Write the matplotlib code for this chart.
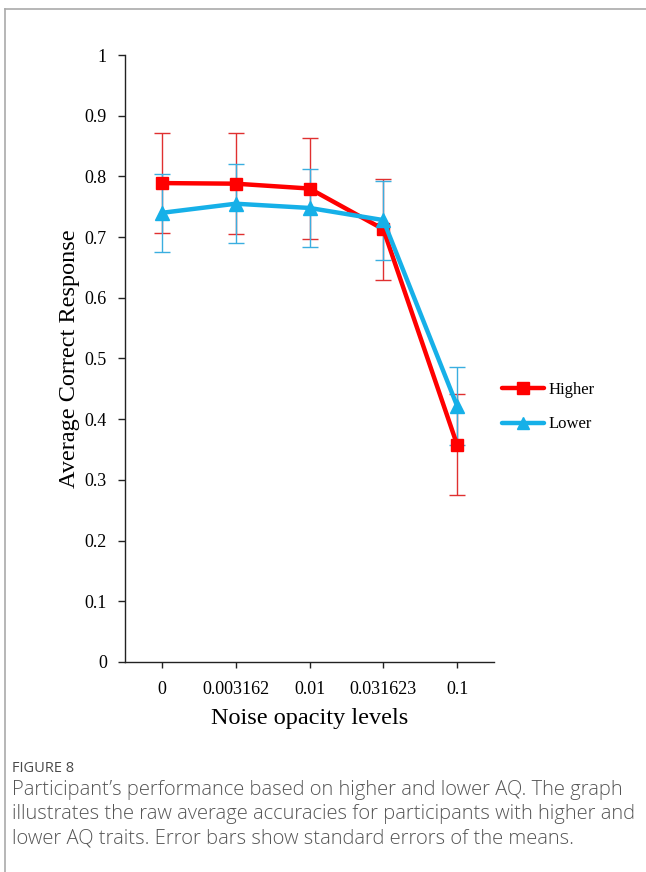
import matplotlib
matplotlib.use("Agg")
import matplotlib.pyplot as plt
from matplotlib.lines import Line2D

categories = ["0", "0.003162", "0.01", "0.031623", "0.1"]
higher = [0.789, 0.788, 0.780, 0.713, 0.358]
higher_err = [0.083, 0.083, 0.083, 0.083, 0.083]
lower = [0.740, 0.755, 0.748, 0.728, 0.422]
lower_err = [0.064, 0.065, 0.065, 0.065, 0.064]
yticks = [0, 0.1, 0.2, 0.3, 0.4, 0.5, 0.6, 0.7, 0.8, 0.9, 1]
ytick_labels = ["0", "0.1", "0.2", "0.3", "0.4", "0.5", "0.6", "0.7", "0.8", "0.9", "1"]

W, H = 646, 872
fig = plt.figure(figsize=(W/100, H/100), dpi=100)

serif = ["Liberation Serif", "DejaVu Serif"]
red = "#ff0000"
blue = "#16b0e8"

ax = fig.add_axes([125/W, 1-662/H, (494-125)/W, (662-55)/H])
x = list(range(len(categories)))

ax.errorbar(x, higher, yerr=higher_err, fmt="none", ecolor="#e03030", elinewidth=1.0, capsize=6, capthick=1.0, zorder=2)
ax.errorbar(x, lower, yerr=lower_err, fmt="none", ecolor="#3aaee0", elinewidth=1.0, capsize=6, capthick=1.0, zorder=2)
ax.plot(x, higher, color=red, lw=3.2, marker="s", ms=9, zorder=3, solid_capstyle="round")
ax.plot(x, lower, color=blue, lw=3.2, marker="^", ms=10, zorder=4, solid_capstyle="round")

ax.set_xlim(-0.5, 4.5)
ax.set_ylim(0, 1)
ax.set_xticks(x)
ax.set_xticklabels(categories, fontfamily=serif, fontsize=13)
ax.set_yticks(yticks)
ax.set_yticklabels(ytick_labels, fontfamily=serif, fontsize=13)
ax.tick_params(axis="y", direction="out", length=5, width=1, color="#222222", pad=8)
ax.tick_params(axis="x", direction="out", length=4, width=1, color="#222222", pad=10)
for s in ["top", "right"]:
    ax.spines[s].set_visible(False)
for s in ["left", "bottom"]:
    ax.spines[s].set_color("#222222")
    ax.spines[s].set_linewidth(1.0)
ax.set_xlabel("Noise opacity levels", fontfamily=serif, fontsize=17.5, labelpad=7)
ax.set_ylabel("Average Correct Response", fontfamily=serif, fontsize=17.5, labelpad=3)

handles = [Line2D([], [], color=red, lw=3.2, marker="s", ms=8, solid_capstyle="round"),
           Line2D([], [], color=blue, lw=3.2, marker="^", ms=8, solid_capstyle="round")]
fig.legend(handles, ["Higher", "Lower"], loc="center left", bbox_to_anchor=(487/W, 1-407/H),
           frameon=False, prop={"family": serif, "size": 12}, handlelength=2.5,
           labelspacing=1.12, handletextpad=0.3)

# frame lines
fig.add_artist(Line2D([5/W, 1], [1-9/H, 1-9/H], color="#aaaaaa", lw=1.2, transform=fig.transFigure))
fig.add_artist(Line2D([5/W, 5/W], [0, 1-9/H], color="#aaaaaa", lw=1.2, transform=fig.transFigure))

sans = ["Open Sans", "DejaVu Sans"]
fig.text(12/W, 1-768/H, "FIGURE 8", fontfamily=sans, fontsize=10.5, color="#4a4a4a", va="center")
caption = ("Participant\u2019s performance based on higher and lower AQ. The graph\n"
           "illustrates the raw average accuracies for participants with higher and\n"
           "lower AQ traits. Error bars show standard errors of the means.")
fig.text(12/W, 1-780/H, caption, fontfamily=sans, fontsize=14.5, color="#555555", va="top",
         linespacing=1.27, fontweight="light")

fig.savefig("out.png", dpi=100)
